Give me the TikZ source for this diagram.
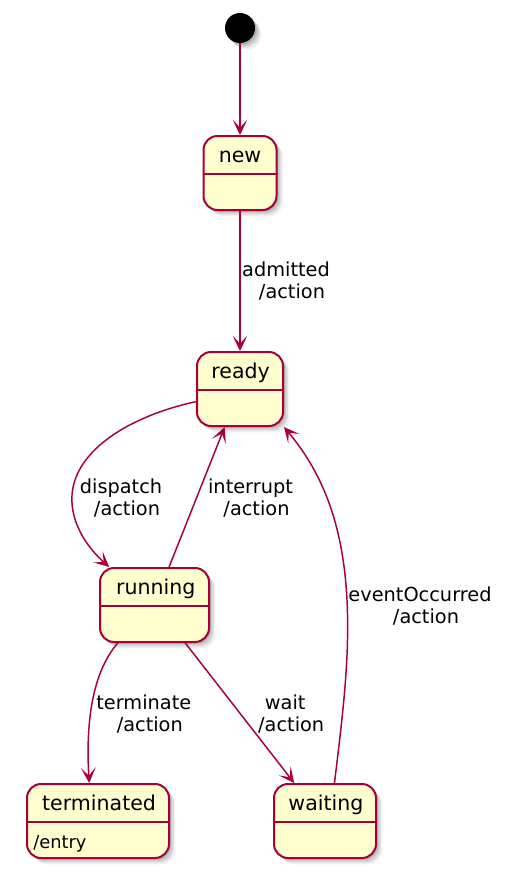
\documentclass[tikz,border=0pt]{standalone}
\usepackage{fontspec}
\setmainfont{DejaVu Sans}
\usetikzlibrary{arrows.meta,shadows}
\definecolor{stfill}{HTML}{FEFECE}
\definecolor{stline}{HTML}{A80036}
\tikzset{
  x=0.75pt, y=-0.75pt,
  softshadow/.style={
    drop shadow={shadow xshift=1.2pt, shadow yshift=-1.2pt, opacity=0.12, fill=black},
    drop shadow={shadow xshift=2.4pt, shadow yshift=-2.4pt, opacity=0.10, fill=black},
    drop shadow={shadow xshift=3.6pt, shadow yshift=-3.6pt, opacity=0.08, fill=black},
    drop shadow={shadow xshift=4.8pt, shadow yshift=-4.8pt, opacity=0.05, fill=black}},
  statebox/.style={draw=stline, fill=stfill, line width=1.5pt, rounded corners=10.5pt,
    minimum height=55.5pt, inner sep=0pt, softshadow},
  divline/.style={draw=stline, line width=1.5pt},
  statename/.style={inner sep=0pt, anchor=base, font=\fontsize{15.4pt}{18pt}\selectfont},
  entrytext/.style={inner sep=0pt, anchor=base west, font=\fontsize{13.4pt}{16pt}\selectfont},
  lbl/.style={inner sep=0pt, align=center, font=\fontsize{14.5pt}{16.9pt}\selectfont},
  arr/.style={draw=stline, line width=1.1pt, -{Stealth[length=11.5pt,width=11pt,inset=6pt]}},
}
\newcommand\lblshift{\hspace*{9pt}}
\begin{document}
\begin{tikzpicture}
\useasboundingbox (0,0) rectangle (522,890);
% initial state
\node[circle, fill=black, minimum size=22.5pt, inner sep=0pt, softshadow] (init) at (240,28) {};
% states
\node[statebox, minimum width=54.75pt] (new) at (240,173) {};
\node[statebox, minimum width=64.5pt] (ready) at (240,389) {};
\node[statebox, minimum width=81.75pt] (running) at (154.5,605) {};
\node[statebox, minimum width=106.5pt] (terminated) at (98,821) {};
\node[statebox, minimum width=76.5pt] (waiting) at (325,821) {};
% dividers
\foreach \s in {new,ready,running,terminated,waiting}{
  \draw[divline] ([yshift=-29.5pt]\s.north west) -- ([yshift=-29.5pt]\s.north east);
}
% names
\node[statename] (newname) at ([yshift=-20.25pt]new.north) {new};
\node[statename] (readyname) at ([xshift=0.5pt,yshift=-20.25pt]ready.north) {ready};
\node[statename] (runningname) at ([xshift=1pt,yshift=-20.25pt]running.north) {running};
\node[statename] (terminatedname) at ([xshift=0.8pt,yshift=-20.25pt]terminated.north) {terminated};
\node[statename] (waitingname) at ([xshift=0.7pt,yshift=-20.25pt]waiting.north) {waiting};
\node[entrytext] (termentry) at ([xshift=5.25pt,yshift=8pt]terminated.south west) {/entry};
% transitions
\draw[arr] (init) -- (new);
\draw[arr] (new) -- (ready);
\draw[arr] (ready.196.5) .. controls (130,416) and (75,450) .. (72,495)
  .. controls (70,525) and (90,550) .. (running.140.7);
\draw[arr] (running.69.1) -- (ready.248.5);
\draw[arr] (running.226.2) .. controls (90,675) and (86,730) .. (terminated.103.3);
\draw[arr] (running.309.7) -- (waiting.129.2);
\draw[arr] (waiting.76.7) .. controls (342,720) and (350,660) .. (347,600)
  .. controls (343,520) and (320,470) .. (ready.south east);
% labels
\node[lbl] (ladmitted) at (286,281) {admitted\\\lblshift/action};
\node[lbl] (ldispatch) at (121,498) {dispatch\\\lblshift/action};
\node[lbl] (linterrupt) at (250.5,498) {interrupt\\\lblshift/action};
\node[lbl] (levent) at (420,606) {eventOccurred\\\lblshift/action};
\node[lbl] (lterminate) at (143.8,714) {terminate\\\lblshift/action};
\node[lbl] (lwait) at (285.2,714) {wait\\\lblshift/action};
\end{tikzpicture}
\end{document}
